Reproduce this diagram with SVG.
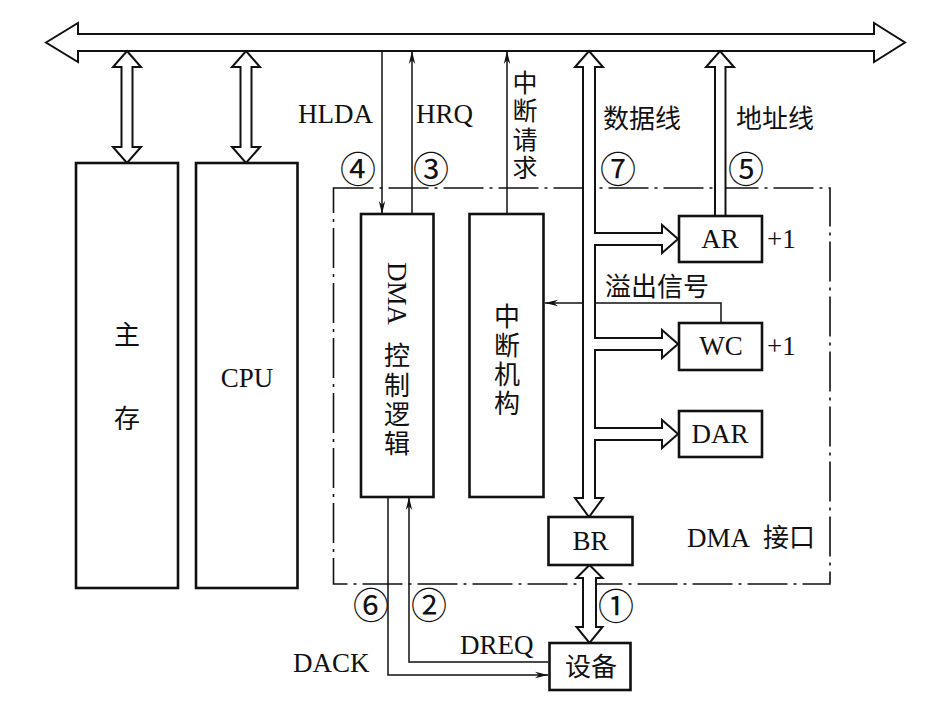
<svg xmlns="http://www.w3.org/2000/svg" width="948" height="708" viewBox="0 0 948 708">
<defs>
<style>
.box{fill:#fff;stroke:#111;stroke-width:2.6}
.hollow{fill:#fff;stroke:#111;stroke-width:2;stroke-linejoin:miter}
.ln{fill:none;stroke:#111;stroke-width:1.5}
.dd{fill:none;stroke:#111;stroke-width:1.6;stroke-dasharray:40 6 3 6}
.t{font-family:"Liberation Serif","Times New Roman","Noto Sans CJK SC",serif;font-size:27px;fill:#111}
.c{font-family:"Liberation Serif","Noto Sans CJK SC",serif;font-size:26px;fill:#111}
.n{font-family:"Noto Sans CJK SC","DejaVu Sans",sans-serif;font-size:36px;fill:#111;text-anchor:middle}
.m{text-anchor:middle}
</style>
<marker id="ah" markerWidth="14" markerHeight="8" refX="13" refY="4" orient="auto" markerUnits="userSpaceOnUse">
<path d="M0,0.8 L13,4 L0,7.2 L4,4 Z" fill="#111"/>
</marker>
</defs>
<rect width="948" height="708" fill="#fff"/>

<g id="dma-interface">
<rect class="dd" x="333.5" y="188" width="496.5" height="396"/>
<text class="t" x="687" y="547">DMA</text>
<text class="c" x="763" y="547">接口</text>
</g>

<g id="connectors">
<path class="hollow" d="M46,42.5 L78,23 V34 H874 V23 L905,42.5 L874,62 V51 H78 V62 Z"/>
<path class="hollow" d="M127,51 L141,67 H132.5 V147 H141 L127,163 L113,147 H121.5 V67 H113 Z"/>
<path class="hollow" d="M246,51 L260,67 H251.5 V147 H260 L246,163 L232,147 H240.5 V67 H232 Z"/>
<path class="hollow" d="M583,498 V67 H575 L589,51 L603,67 H595 V233 H662 V225 L678,239 L662,253 V245 H595 V338 H662 V330 L678,344 L662,358 V350 H595 V428 H662 V420 L678,434 L662,448 V440 H595 V498 H603 L589,517 L575,498 Z"/>
<path class="hollow" d="M715,216 V67 H706 L720,51 L734,67 H725.5 V216"/>
<path class="hollow" d="M589.5,565 L602.5,578 H596 V627 H602.5 L589.5,643 L576.5,627 H583 V578 H576.5 Z"/>
<line class="ln" x1="382" y1="51" x2="382" y2="214" marker-end="url(#ah)"/>
<line class="ln" x1="412" y1="214" x2="412" y2="51" marker-end="url(#ah)"/>
<line class="ln" x1="507" y1="214" x2="507" y2="51" marker-end="url(#ah)"/>
<polyline class="ln" points="721,323 721,303 595,303"/>
<line class="ln" x1="583" y1="303" x2="545" y2="303" marker-end="url(#ah)"/>
<polyline class="ln" points="548,662 409,662 409,497" marker-end="url(#ah)"/>
<polyline class="ln" points="388,497 388,675 548,675" marker-end="url(#ah)"/>
</g>

<g id="memory">
<rect class="box" x="76" y="163" width="102" height="425"/>
<text class="c m" x="127" y="344">主</text>
<text class="c m" x="127" y="428">存</text>
</g>

<g id="cpu">
<rect class="box" x="196" y="163" width="101.5" height="425"/>
<text class="t m" x="247" y="387">CPU</text>
</g>

<g id="dma-control">
<rect class="box" x="361" y="214" width="72.5" height="283"/>
<text class="t" transform="translate(388,262) rotate(90)">DMA</text>
<text class="c m" x="397" y="365">控</text>
<text class="c m" x="397" y="395">制</text>
<text class="c m" x="397" y="424">逻</text>
<text class="c m" x="397" y="453">辑</text>
</g>

<g id="interrupt">
<rect class="box" x="469.5" y="214" width="74" height="283"/>
<text class="c m" x="507" y="326">中</text>
<text class="c m" x="507" y="355">断</text>
<text class="c m" x="507" y="384">机</text>
<text class="c m" x="507" y="413">构</text>
</g>

<g id="ar">
<rect class="box" x="679" y="216" width="83" height="46"/>
<text class="t m" x="720" y="248">AR</text>
<text class="t" x="767" y="248">+1</text>
</g>

<g id="wc">
<rect class="box" x="679" y="323" width="83" height="47"/>
<text class="t m" x="721" y="355">WC</text>
<text class="t" x="767" y="355">+1</text>
</g>

<g id="dar">
<rect class="box" x="679" y="411" width="83" height="46"/>
<text class="t m" x="720" y="443">DAR</text>
</g>

<g id="br">
<rect class="box" x="548.5" y="517" width="84" height="48"/>
<text class="t m" x="590.5" y="550">BR</text>
</g>

<g id="device">
<rect class="box" x="549.5" y="643" width="81" height="47"/>
<text class="c m" x="591" y="676">设备</text>
</g>

<g id="labels">
<text class="t" x="298" y="123">HLDA</text>
<text class="t" x="416" y="123">HRQ</text>
<text class="c m" x="525" y="92" style="font-size:25px">中</text>
<text class="c m" x="525" y="120" style="font-size:25px">断</text>
<text class="c m" x="525" y="149" style="font-size:25px">请</text>
<text class="c m" x="525" y="177" style="font-size:25px">求</text>
<text class="c" x="603" y="128">数据线</text>
<text class="c" x="736" y="128">地址线</text>
<text class="c" x="605" y="296">溢出信号</text>
<text class="t" x="293" y="672">DACK</text>
<text class="t" x="460" y="654">DREQ</text>
<text class="n" x="358" y="183">④</text>
<text class="n" x="431" y="183">③</text>
<text class="n" x="618" y="183">⑦</text>
<text class="n" x="746" y="183">⑤</text>
<text class="n" x="371" y="619">⑥</text>
<text class="n" x="429" y="619">②</text>
<text class="n" x="616" y="620">①</text>
</g>
</svg>
